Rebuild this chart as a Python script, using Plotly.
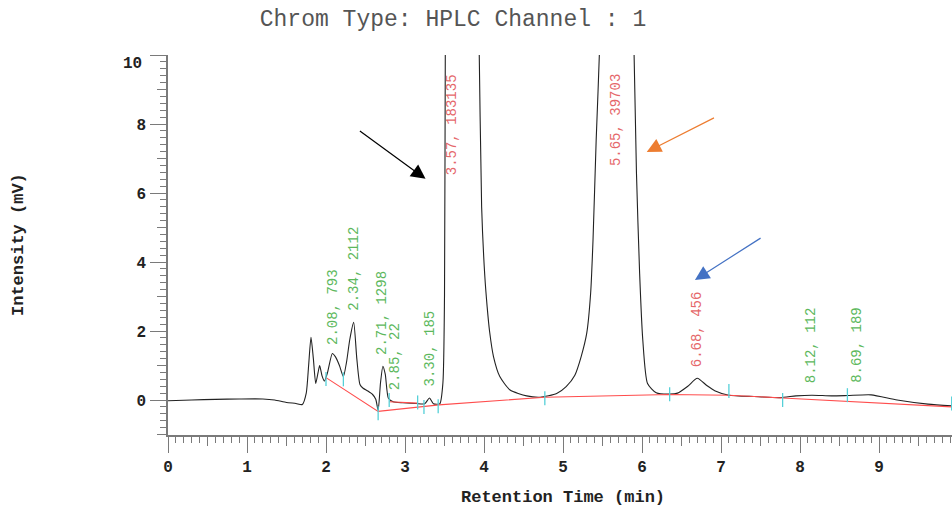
import plotly.graph_objects as go

# ---------------- data ----------------
time_min = [0.00, 0.30, 0.60, 0.90, 1.20, 1.35, 1.50, 1.62, 1.70, 1.75,
            1.78, 1.81, 1.84, 1.87, 1.90, 1.92, 1.95, 1.98, 2.02, 2.08,
            2.12, 2.17, 2.22, 2.26, 2.30, 2.35, 2.39, 2.43, 2.47, 2.53,
            2.59, 2.63, 2.66, 2.69, 2.72, 2.75, 2.79, 2.85, 2.97, 3.14,
            3.25, 3.31, 3.36, 3.44, 3.48, 3.50, 3.51, 3.62, 3.94, 3.97,
            4.01, 4.04, 4.07, 4.12, 4.20, 4.33, 4.54, 4.71, 4.92, 5.04,
            5.15, 5.23, 5.30, 5.35, 5.38, 5.42, 5.46, 5.68, 5.90, 5.93,
            5.97, 6.01, 6.07, 6.18, 6.35, 6.45, 6.58, 6.70, 6.82, 6.92,
            7.10, 7.42, 7.75, 7.95, 8.15, 8.40, 8.60, 8.90, 9.23, 9.62,
            9.92]
intensity_mv = [-0.02, 0.00, 0.02, 0.03, 0.03, 0.00, -0.07, -0.10, -0.13, 0.20,
                1.00, 1.82, 1.20, 0.48, 0.80, 1.00, 0.70, 0.55, 0.80, 1.35,
                1.25, 1.00, 0.68, 1.10, 1.74, 2.25, 1.20, 0.45, 0.34, 0.26,
                0.16, 0.02, -0.30, 0.50, 0.98, 0.75, 0.05, -0.05, -0.08, -0.10,
                -0.11, 0.06, -0.11, -0.11, 0.50, 3.00, 10.0, 60.0, 10.0, 5.60,
                3.60, 2.70, 2.00, 1.26, 0.68, 0.29, 0.12, 0.08, 0.19, 0.39,
                0.72, 1.26, 1.93, 3.10, 4.64, 7.54, 10.0, 30.0, 10.0, 6.57,
                3.67, 1.74, 0.48, 0.21, 0.17, 0.20, 0.40, 0.63, 0.42, 0.27,
                0.14, 0.10, 0.07, 0.12, 0.14, 0.12, 0.13, 0.15, 0.00, -0.12,
                -0.17]

baseline_x = [2.00, 2.66, 3.43, 4.77, 6.35, 7.10, 7.78, 9.92, None, 2.80, 3.16]
baseline_y = [0.65, -0.33, -0.14, 0.08, 0.16, 0.14, 0.06, -0.20, None, -0.05, -0.09]

marker_x = [2.00, 2.22, 2.66, 2.80, 3.16, 3.24, 3.42, 4.77, 6.35, 7.10, 7.78, 8.60, 9.92]
marker_y = [0.61, 0.60, -0.38, 0.00, -0.07, -0.20, -0.18, 0.05, 0.17, 0.26, 0.00, 0.14, -0.10]

peak_labels = ["2.08, 793", "2.34, 2112", "2.71, 1298", "2.85, 22", "3.30, 185",
               "3.57, 183135", "5.65, 39703", "6.68, 456", "8.12, 112", "8.69, 189"]
label_x = [2.09, 2.35, 2.71, 2.87, 3.31, 3.59, 5.67, 6.70, 8.14, 8.73]
label_y = [1.54, 2.52, 1.25, 0.23, 0.35, 6.46, 6.72, 0.90, 0.43, 0.43]
label_group = ["g", "g", "g", "g", "g", "r", "r", "r", "g", "g"]

arrow_tip_x = [3.26, 6.06, 6.67]
arrow_tip_y = [6.41, 7.19, 3.48]
arrow_tail_x = [2.41, 6.93, 7.52]
arrow_tail_y = [7.83, 8.20, 4.72]
arrow_colors = ["#000000", "#ed7d31", "#4472c4"]

y_tickvals = [0, 2, 4, 6, 8, 10]
y_ticktext = ["0", "2", "4", "6", "8", ""]
x_tickvals = [0, 1, 2, 3, 4, 5, 6, 7, 8, 9]

X_RANGE = [0.0, 9.924]
Y_RANGE = [-1.014, 10.0]

MONO = "Liberation Mono"
AXIS_GRAY = "#7a7a7a"
GREEN = "#5cb85c"
RED = "#e5676a"

# plot area in pixels (for paper-coordinate conversion of free text)
PL, PR, PT, PB = 168, 952, 55, 435


def px_to_paper(px, py):
    return (px - PL) / (PR - PL), (PB - py) / (PB - PT)


fig = go.Figure()

fig.add_trace(go.Scatter(
    x=time_min, y=intensity_mv, mode="lines",
    line=dict(color="#222222", width=1.1, shape="spline", smoothing=0.6),
    hoverinfo="skip", showlegend=False))

fig.add_trace(go.Scatter(
    x=baseline_x, y=baseline_y, mode="lines",
    line=dict(color="#ff4d4d", width=1.1),
    hoverinfo="skip", showlegend=False))

fig.add_trace(go.Scatter(
    x=marker_x, y=marker_y, mode="markers",
    marker=dict(symbol="line-ns", size=10, color="#55d0d8",
                line=dict(color="#55d0d8", width=1.3)),
    hoverinfo="skip", showlegend=False))

# invisible trace for the overlay axes carrying the half ticks
fig.add_trace(go.Scatter(x=[None], y=[None], xaxis="x2", yaxis="y2",
                         showlegend=False, hoverinfo="skip"))

annotations = []
for txt, lx, ly, grp in zip(peak_labels, label_x, label_y, label_group):
    annotations.append(dict(
        x=lx, y=ly, xref="x", yref="y", text=txt, showarrow=False,
        textangle=-90, xanchor="center", yanchor="bottom",
        font=dict(family=MONO, size=14, color=GREEN if grp == "g" else RED)))

for tx, ty, ax, ay, col in zip(arrow_tip_x, arrow_tip_y, arrow_tail_x, arrow_tail_y, arrow_colors):
    annotations.append(dict(
        x=tx, y=ty, ax=ax, ay=ay, xref="x", yref="y", axref="x", ayref="y",
        text="", showarrow=True, arrowhead=2, arrowsize=2.4, arrowwidth=1.2,
        arrowcolor=col, standoff=0, startstandoff=0))

# "10" label sits slightly below its tick
tx10, _ = px_to_paper(144, 0)
annotations.append(dict(x=tx10, y=10, xref="paper", yref="y", text="10",
                        showarrow=False, xanchor="right", yanchor="middle",
                        yshift=-9, font=dict(family=MONO, size=16, color="#222", weight="bold")))

xt, yt = px_to_paper(563, 497)
annotations.append(dict(x=xt, y=yt, xref="paper", yref="paper",
                        text="Retention Time (min)", showarrow=False,
                        xanchor="center", yanchor="middle",
                        font=dict(family=MONO, size=17, color="#222", weight="bold")))
xi, yi = px_to_paper(18, 245)
annotations.append(dict(x=xi, y=yi, xref="paper", yref="paper",
                        text="Intensity (mV)", showarrow=False, textangle=-90,
                        xanchor="center", yanchor="middle",
                        font=dict(family=MONO, size=17, color="#222", weight="bold")))

fig.update_layout(
    width=952, height=510,
    margin=dict(l=PL, r=952 - PR, t=PT, b=510 - PB, autoexpand=False),
    paper_bgcolor="white", plot_bgcolor="white",
    title=dict(text="Chrom Type: HPLC Channel : 1", x=453 / 952, xanchor="center",
               xref="container", y=1 - 18 / 510, yanchor="middle", yref="container",
               font=dict(family=MONO, size=23, color="#555")),
    xaxis=dict(range=X_RANGE, tickvals=x_tickvals, ticks="outside", ticklen=16,
               tickwidth=1.2, tickcolor=AXIS_GRAY, showline=True, linecolor=AXIS_GRAY,
               linewidth=1.5, showgrid=False, zeroline=False,
               tickfont=dict(family=MONO, size=16, color="#222", weight="bold"),
               minor=dict(dtick=0.1, tick0=0, ticks="outside", ticklen=6,
                          tickwidth=1.2, tickcolor=AXIS_GRAY, showgrid=False)),
    yaxis=dict(range=Y_RANGE, tickvals=y_tickvals, ticktext=y_ticktext, ticks="outside",
               ticklen=16, tickwidth=1.2, tickcolor=AXIS_GRAY, showline=True,
               linecolor=AXIS_GRAY, linewidth=1.5, showgrid=False, zeroline=False,
               ticklabelstandoff=1,
               tickfont=dict(family=MONO, size=16, color="#222", weight="bold"),
               minor=dict(dtick=0.2, tick0=0, ticks="outside", ticklen=6,
                          tickwidth=1.2, tickcolor=AXIS_GRAY, showgrid=False)),
    xaxis2=dict(range=X_RANGE, overlaying="x", anchor="y", side="bottom",
                tick0=0.5, dtick=1, ticks="outside", ticklen=10, tickwidth=1.2,
                tickcolor=AXIS_GRAY, showticklabels=False, showline=False,
                showgrid=False, zeroline=False),
    yaxis2=dict(range=Y_RANGE, overlaying="y", anchor="x", side="left",
                tick0=1, dtick=2, ticks="outside", ticklen=10, tickwidth=1.2,
                tickcolor=AXIS_GRAY, showticklabels=False, showline=False,
                showgrid=False, zeroline=False),
    annotations=annotations,
    showlegend=False,
)

fig.write_html(
    "out.html",
    config={"displayModeBar": False},
    post_script="document.body.style.margin='0';document.body.style.overflow='hidden';",
)
